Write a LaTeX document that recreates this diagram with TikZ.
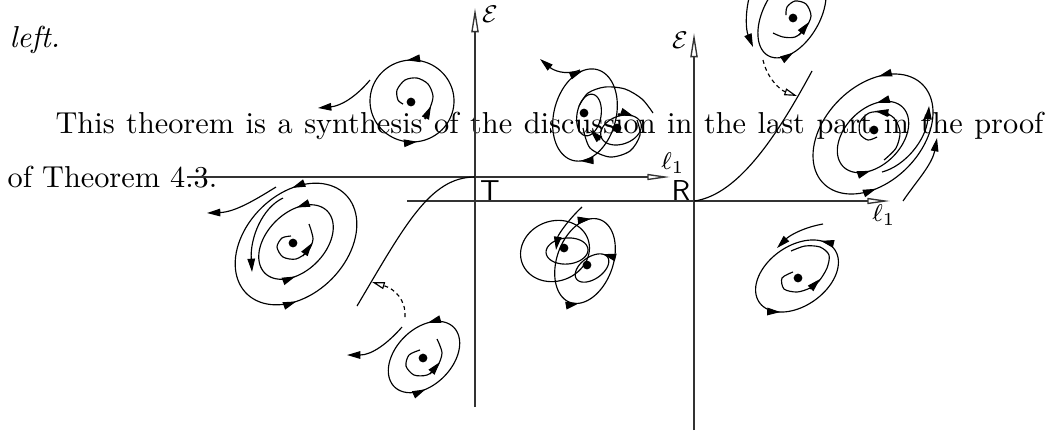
\documentclass[tikz,border=0pt]{standalone}
\usetikzlibrary{arrows.meta,decorations.markings}
\tikzset{
  traj/.style={line width=0.38pt},
  axisln/.style={line width=0.45pt, draw=black!80},
  mk/.style={postaction={decorate,decoration={markings,mark=at position #1 with {\arrow{Triangle[length=4.4pt,width=2.5pt]}}}}},
  mkr/.style={postaction={decorate,decoration={markings,mark=at position #1 with {\arrowreversed{Triangle[length=4.4pt,width=2.5pt]}}}}},
  endtip/.style={-{Triangle[length=4.4pt,width=2.5pt]}},
  dashtip/.style={line width=0.38pt,dash pattern=on 1.3pt off 1.1pt, -{Triangle[open,length=4.2pt,width=2.3pt]}},
  htip/.style={-{Triangle[open,length=7.5pt,width=2pt]}},
  vtip/.style={-{Triangle[open,length=8pt,width=2.4pt]}},
  fdot/.style={circle,fill,inner sep=0pt,minimum size=2.9pt},
  txt/.style={inner sep=0pt, anchor=base west, font=\fontsize{10}{12}\selectfont},
  lab/.style={inner sep=0pt, font=\fontsize{8.5}{10}\selectfont},
  sflab/.style={inner sep=0pt, font=\sffamily\fontsize{9.5}{11}\selectfont},
}
\newcommand\myorb[6]{\draw[traj,#6] plot[domain=0:360,samples=90] ({#1+#3*cos(\x)*cos(#5)-#4*sin(\x)*sin(#5)},{#2-#3*cos(\x)*sin(#5)-#4*sin(\x)*cos(#5)});}
\begin{document}
\begin{tikzpicture}[x=0.33pt,y=-0.33pt]
\useasboundingbox (0,0) rectangle (1052,433);
\clip (0,0) rectangle (1052,433);
% ---------- text ----------
\node[txt] (t1) at (9,47) {\itshape left.};
\node[txt] (t2) at (55,133) {\makebox[326pt][s]{This theorem is a synthesis of the discussion in the last part in the proof}};
\node[txt] (t3) at (7,187) {of Theorem 4.3.};
% ---------- axes ----------
\coordinate (hL1) at (187,177); \coordinate (hL2) at (670,177);
\coordinate (vL1) at (475,407); \coordinate (vL2) at (475,8);
\coordinate (hR1) at (407,201); \coordinate (hR2) at (890,201);
\coordinate (vR1) at (694,430); \coordinate (vR2) at (694,33);
\draw[axisln,htip] (hL1) -- (hL2);
\draw[axisln,vtip] (vL1) -- (vL2);
\draw[axisln,htip] (hR1) -- (hR2);
\draw[axisln,vtip] (vR1) -- (vR2);
\node[lab] (eL) at (490,14) {$\mathcal{E}$};
\node[lab] (eR) at (680,40) {$\mathcal{E}$};
\node[lab] (lL) at (673,163) {$\ell_1$};
\node[lab] (lR) at (884,215) {$\ell_1$};
\node[sflab] (T) at (490,191) {T};
\node[sflab] (R) at (681,190) {R};
\coordinate (oT) at (475,177);
\coordinate (oR) at (694,201);
\coordinate (cT) at (357,306);
\coordinate (cR) at (812,71);
\draw[traj] (cT) .. controls (405,225) and (430,177) .. (oT);
\draw[traj] (oR) .. controls (740,195) and (780,130) .. (cR);
% dashed links
\coordinate (dl1) at (405,317); \coordinate (dl2) at (372,282);
\coordinate (dr1) at (763,60); \coordinate (dr2) at (797,96);
\draw[dashtip] (dl1) .. controls (406,300) and (395,289) .. (dl2);
\draw[dashtip] (dr1) .. controls (767,78) and (780,90) .. (dr2);
% ---------- portrait 1 (left top) ----------
\node[fdot] (d1) at (411,102) {};
\myorb{412}{101}{42}{41}{0}{mk=0.27, mk=0.77}
\draw[traj,endtip] (370,80) .. controls (355,98) and (340,106) .. (318,108);
\draw[traj] plot[smooth] coordinates {(425,119) (430,108) (433,96) (428,84) (417,78) (405,80) (397,90) (398,100) (403,104)};
\draw[traj,endtip] (425,119) -- (431,106);
% ---------- portrait 2 (left big) ----------
\node[fdot] (d2) at (293,243) {};
\myorb{296}{244}{70}{50}{45}{mk=0.15, mk=0.64}
\myorb{296}{242}{44}{29}{45}{mk=0.14, mk=0.64}
\draw[traj,endtip] (283,198) .. controls (262,208) and (250,238) .. (252,272);
\draw[traj,endtip] (276,187) .. controls (255,200) and (235,212) .. (207,213);
\draw[traj] plot[smooth] coordinates {(291,236) (282,238) (277,247) (283,257) (296,259) (308,251) (313,239) (309,224)};
\draw[traj,endtip] (303,256) -- (312,243);
% ---------- portrait 3 (left bottom) ----------
\node[fdot] (d3) at (423,358) {};
\myorb{424}{357}{42}{28}{45}{mk=0.125, mk=0.65}
\draw[traj,endtip] (402,327) .. controls (388,343) and (372,355) .. (347,355);
\draw[traj] plot[smooth] coordinates {(420,350) (409,355) (406,366) (414,375) (427,375) (437,367) (442,353) (437,339)};
\draw[traj,endtip] (430,374) -- (440,362);
% ---------- portrait 4 (middle top) ----------
\node[fdot] (d4a) at (584,113) {};
\node[fdot] (d4b) at (617,128) {};
\draw[traj,endtip] (580,70) .. controls (565,76) and (553,70) .. (540,59);
\myorb{585}{115}{47}{31}{75}{mkr=0.06, mkr=0.53}
\myorb{589}{115}{21}{12}{80}{}
\draw[traj] plot[smooth] coordinates {(579,106) (588,93) (605,87) (625,89) (642,99) (653,113)};
\myorb{621}{130}{21}{14}{20}{mkr=0.09}
\draw[traj] plot[smooth] coordinates {(583,128) (590,148) (610,157) (630,151) (640,135) (637,120)};
\draw[traj,endtip] (600,140) -- (590,130);
% ---------- portrait 5 (middle bottom) ----------
\node[fdot] (d5a) at (564,248) {};
\node[fdot] (d5b) at (587,265) {};
\draw[traj,endtip] (582,207) .. controls (568,220) and (558,235) .. (556,250);
\myorb{555}{251}{35}{30}{20}{}
\myorb{585}{261}{44}{28}{70}{mkr=0.04, mk=0.54}
\myorb{567}{251}{21}{13}{5}{}
\myorb{592}{268}{19}{11}{35}{mk=0.06}
% ---------- portrait 6 (right top) ----------
\node[fdot] (d6) at (793,18) {};
\draw[traj,endtip] (749,-2) .. controls (745,15) and (746,30) .. (753,47);
\myorb{792}{14}{48}{28}{60}{mk=0.61}
\draw[traj] plot[smooth] coordinates {(773,33) (783,37) (795,37) (805,29) (811,16) (806,4) (795,1) (787,7) (786,15)};
\draw[traj,endtip] (799,35) -- (809,22);
% ---------- portrait 7 (right big) ----------
\node[fdot] (d7) at (874,130) {};
\myorb{873}{134}{70}{48}{45}{mk=0.125, mk=0.65}
\myorb{873}{137}{42}{28}{45}{mk=0.125, mk=0.63}
\draw[traj] plot[smooth] coordinates {(884,160) (896,148) (900,132) (894,118) (882,112) (869,113) (860,122) (860,134) (868,140) (877,137)};
\draw[traj,endtip] (888,113) -- (875,111);
\draw[traj,endtip] (882,172) .. controls (905,166) and (926,140) .. (929,106);
\draw[traj,endtip] (903,201) .. controls (915,183) and (932,165) .. (937,138);
% ---------- portrait 8 (right bottom) ----------
\node[fdot] (d8) at (798,278) {};
\draw[traj,endtip] (823,224) .. controls (805,227) and (790,235) .. (777,248);
\myorb{797}{276}{46}{30}{35}{mk=0.07, mk=0.6}
\draw[traj] plot[smooth] coordinates {(793,272) (782,278) (784,289) (797,292) (810,288) (819,281) (827,268) (829,255) (820,247) (805,246) (791,251)};
\draw[traj,endtip] (810,289) -- (820,279);
\end{tikzpicture}
\end{document}
